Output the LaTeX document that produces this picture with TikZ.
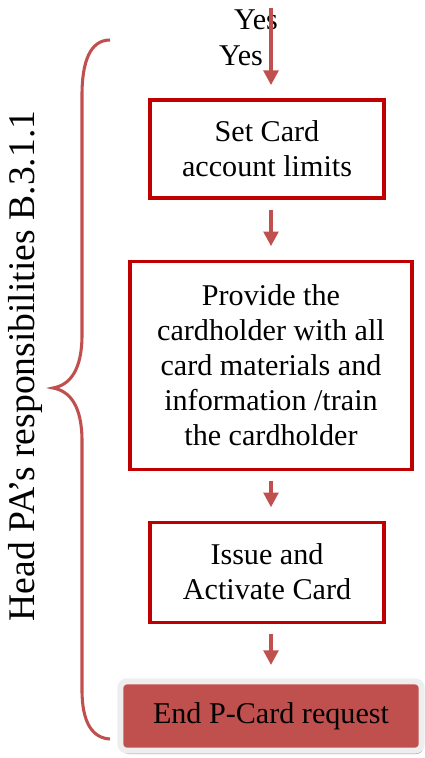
\documentclass[tikz,border=0pt]{standalone}
\usepackage{fontspec}
\setmainfont{Liberation Serif}
\usepackage{xcolor}
\usetikzlibrary{arrows.meta, positioning, shadows}
\definecolor{darkred}{HTML}{C00000}
\definecolor{softred}{HTML}{C0504D}
\definecolor{rimgrey}{HTML}{EEEEEE}
\definecolor{shadowtan}{HTML}{B89696}
\tikzstyle{redbox} = [rectangle, draw=darkred, line width=2.3pt, align=center, text centered, font=\fontsize{22.6}{26.3}\selectfont]
\tikzstyle{endbox} = [rectangle, rounded corners=5pt, draw=rimgrey, line width=4.5pt, fill=softred, minimum width=226pt, minimum height=52pt, text centered, font=\fontsize{22.6}{26.3}\selectfont, drop shadow={shadow xshift=1pt, shadow yshift=-2.5pt, fill=shadowtan, opacity=1}]
\tikzstyle{arrow} = [draw=softred, line width=2.6pt, -{Triangle[width=11pt,length=11pt]}, shorten <=7.5pt, shorten >=10pt]

\begin{document}
\begin{tikzpicture}[x=0.75pt, y=-0.75pt]
    \useasboundingbox (0,0) rectangle (425,758);

    \node (limits) [redbox, minimum width=175.5pt, minimum height=73.5pt] at (267,149) {Set Card\\account limits};
    \node (materials) [redbox, minimum width=211.5pt, minimum height=156pt, below=45pt of limits, xshift=3pt] {Provide the\\cardholder with all\\card materials and\\information /train\\the cardholder};
    \node (activate) [redbox, minimum width=175.5pt, minimum height=75pt, below=37.5pt of materials, xshift=-3pt] {Issue and\\Activate Card};
    \node (finish) [endbox, below=41pt of activate, xshift=3pt] {End P-Card request};

    % incoming branch from above
    \coordinate (top) at (271,8);
    \node (yesa) at (256,20) [font=\fontsize{22.6}{26.3}\selectfont] {Yes};
    \node (yesb) at (241,56) [font=\fontsize{22.6}{26.3}\selectfont] {Yes};

    \draw [arrow, shorten <=0pt] (top) -- (top |- limits.north);
    \draw [arrow] (limits.south -| top) -- (materials.north -| top);
    \draw [arrow] (materials.south -| top) -- (activate.north -| top);
    \draw [arrow] (activate.south -| top) -- (finish.north -| top);

    % brace for the head PA
    \draw [softred, line width=2.3pt] (110,40) .. controls (90,40) and (82,62) .. (82,95) -- (82,335)
        .. controls (82,370) and (70,385) .. (53,388)
        .. controls (70,391) and (82,406) .. (82,441) -- (82,690)
        .. controls (82,722) and (92,738) .. (110,739);
    \node (role) at (25,366) [rotate=90, font=\fontsize{28.2}{30}\selectfont] {Head PA’s responsibilities B.3.1.1};
\end{tikzpicture}
\end{document}
